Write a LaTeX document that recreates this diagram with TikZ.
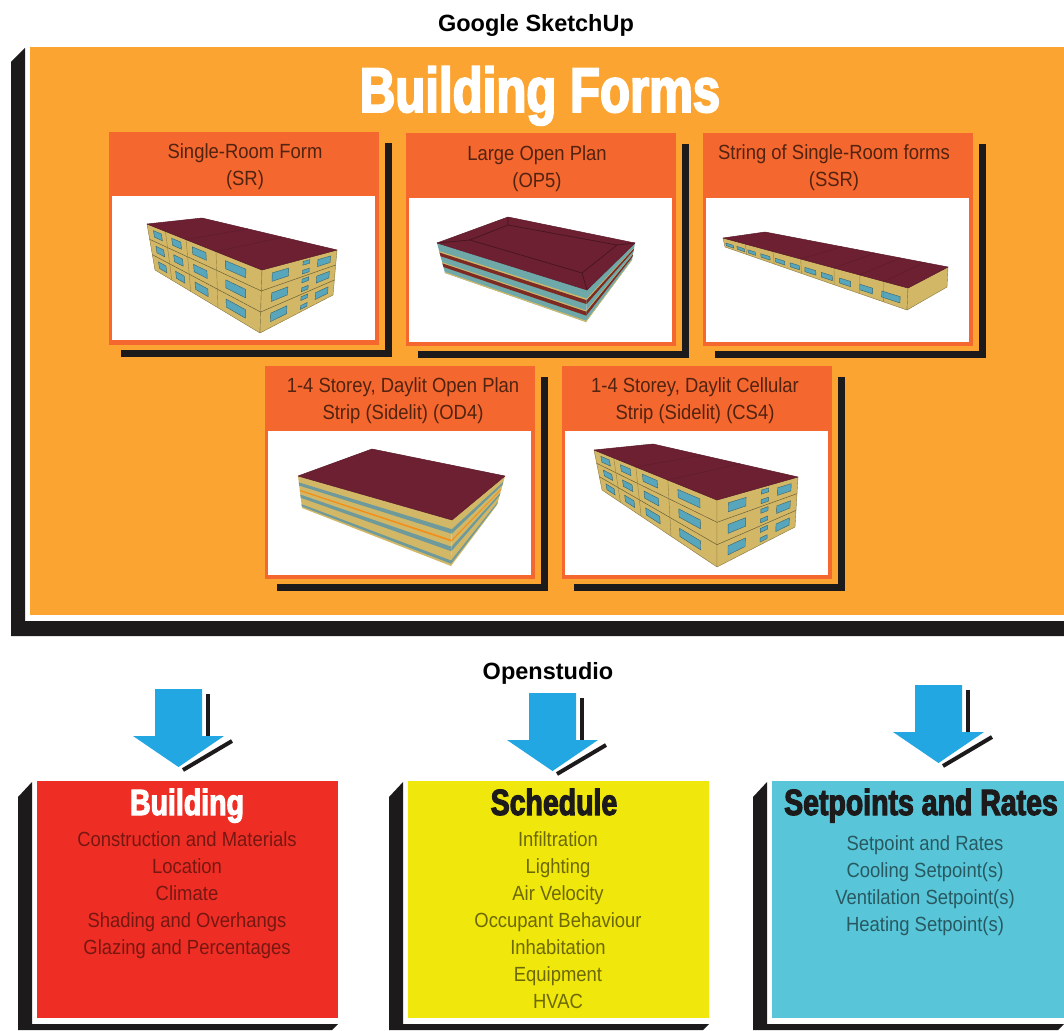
\documentclass[tikz,border=0pt]{standalone}
\usepackage{fontspec}
\usepackage{xcolor}
\usetikzlibrary{positioning}
\usetikzlibrary{calc}
\setmainfont{Liberation Sans}
\newfontfamily\bodyfont[FakeStretch=0.90]{Liberation Sans}
\newfontfamily\headfont[FakeStretch=0.78,FakeBold=3]{Liberation Sans Bold}

\definecolor{boardorange}{HTML}{FBA431}
\definecolor{panelorange}{HTML}{F4672F}
\definecolor{inkblack}{HTML}{1C1A1B}
\definecolor{arrowblue}{HTML}{22A7E2}
\definecolor{zonered}{HTML}{EE2E24}
\definecolor{zoneyellow}{HTML}{F0E80C}
\definecolor{zoneteal}{HTML}{58C6D8}
\definecolor{roofred}{HTML}{6C2031}
\definecolor{wallsand}{HTML}{D2B866}
\definecolor{wallshade}{HTML}{C4AA5C}
\definecolor{glassblue}{HTML}{58A6BC}
\definecolor{bandteal}{HTML}{6FA8A8}
\definecolor{bandred}{HTML}{7E2A22}
\definecolor{bandblue}{HTML}{6E9A9C}

% point on a wall: corners tl tr bl br, then u and v
\newcommand{\wallpt}[6]{($($(#1)!#5!(#2)$)!#6!($(#3)!#5!(#4)$)$)}
% horizontal band on a wall
\newcommand{\wallband}[7]{\fill[#7] \wallpt{#1}{#2}{#3}{#4}{0}{#5} -- \wallpt{#1}{#2}{#3}{#4}{1}{#5} -- \wallpt{#1}{#2}{#3}{#4}{1}{#6} -- \wallpt{#1}{#2}{#3}{#4}{0}{#6} -- cycle;}
% windows: list of u-ranges, number of rows
\newcommand{\wallglass}[6]{%
	\foreach \ua/\ub in {#5} {
		\foreach \rowno in {1,...,#6} {
			\pgfmathsetmacro{\va}{(\rowno-0.72)/#6}
			\pgfmathsetmacro{\vb}{(\rowno-0.30)/#6}
			\filldraw[windowpane] \wallpt{#1}{#2}{#3}{#4}{\ua}{\va} -- \wallpt{#1}{#2}{#3}{#4}{\ub}{\va} -- \wallpt{#1}{#2}{#3}{#4}{\ub}{\vb} -- \wallpt{#1}{#2}{#3}{#4}{\ua}{\vb} -- cycle;
		}
	}
}
% storey lines of a wall
\newcommand{\wallfloors}[4]{%
	\draw[floorline] \wallpt{#1}{#2}{#3}{#4}{0}{0.333} -- \wallpt{#1}{#2}{#3}{#4}{1}{0.333};
	\draw[floorline] \wallpt{#1}{#2}{#3}{#4}{0}{0.667} -- \wallpt{#1}{#2}{#3}{#4}{1}{0.667};
}
% seams across a wall or roof
\newcommand{\wallseams}[6]{%
	\foreach \us in {#5} {
		\draw[#6] \wallpt{#1}{#2}{#3}{#4}{\us}{0} -- \wallpt{#1}{#2}{#3}{#4}{\us}{1};
	}
}

\begin{document}
\begin{tikzpicture}[
		x=1pt, y=-1pt,
		% Panels of the board
		board/.style={fill=boardorange, inner sep=0pt, outer sep=0pt, minimum width=1034pt, minimum height=568pt},
		formpanel/.style={fill=panelorange, inner sep=0pt, outer sep=0pt, minimum width=270pt, minimum height=213pt},
		formphoto/.style={fill=white, inner sep=0pt, outer sep=0pt, minimum width=263pt, minimum height=144pt},
		formtitle/.style={align=center, inner sep=0pt, text=black!55!panelorange!75!black, font=\bodyfont\fontsize{20.5}{27}\selectfont},
		formshadow/.style={draw=inkblack, line width=7pt},
		% Buildings
		roofface/.style={fill=roofred, draw=roofred!85!black, line width=0.5pt, line join=round},
		wallface/.style={fill=wallsand, draw=wallshade!70!black, line width=0.4pt, line join=round},
		windowpane/.style={fill=glassblue, draw=glassblue!60!black, line width=0.4pt},
		floorline/.style={draw=wallshade!55!black, line width=0.5pt},
		bayline/.style={draw=wallshade!75!black, line width=0.4pt},
		roofline/.style={draw=roofred!65!black, line width=0.7pt},
		roofseam/.style={draw=roofred!88!black, line width=0.5pt},
		% Lower boxes
		zonebox/.style={inner sep=0pt, outer sep=0pt, minimum height=237pt},
		zonehead/.style={inner sep=0pt, anchor=base, font=\headfont\fontsize{36.5}{36.5}\selectfont},
		zonetext/.style={align=center, inner sep=0pt, font=\bodyfont\fontsize{20.5}{27}\selectfont},
		toolname/.style={inner sep=0pt, anchor=base, font=\bfseries\fontsize{23.5}{23.5}\selectfont},
		inkfill/.style={fill=inkblack},
		node distance=27pt,
		]
		\useasboundingbox (0,0) rectangle (1064,1030);

		% Board with its black edge
		\fill[inkfill] (11,62) -- (25,48) -- (25,621) -- (1064,621) -- (1064,636) -- (11,636) -- cycle;
		\node[board] (board) at (547,331) {};
		\node[toolname] (sketchup) at (536,32) {Google SketchUp};
		\node[inner sep=0pt, anchor=base, text=white, font=\headfont\fontsize{63}{63}\selectfont] (boardtitle) at (540,112) {Building Forms};

		% Upper row of panels
		\node[formpanel] (srpanel) at (244,238.5) {};
		\node[formpanel, right=of srpanel, yshift=-0.5pt] (oppanel) {};
		\node[formpanel, right=of oppanel] (ssrpanel) {};
		% Lower row of panels
		\node[formpanel] (odpanel) at (400,472.5) {};
		\node[formpanel, right=of odpanel] (cspanel) {};

		\foreach \pname in {srpanel,oppanel,ssrpanel,odpanel,cspanel} {
			\draw[formshadow] ($(\pname.north east)+(9,11)$) |- ($(\pname.south west)+(12,8.5)$);
		}

		\node[formphoto, above=5pt of srpanel.south, xshift=-0.5pt] (srphoto) {};
		\node[formphoto, above=4pt of oppanel.south, xshift=-0.5pt] (opphoto) {};
		\node[formphoto, above=4pt of ssrpanel.south, xshift=-0.5pt] (ssrphoto) {};
		\node[formphoto, above=4pt of odpanel.south, xshift=-0.5pt] (odphoto) {};
		\node[formphoto, above=4pt of cspanel.south, xshift=-0.5pt] (csphoto) {};

		\node[formtitle] (srtitle) at (245,166.5) {Single-Room Form\\(SR)};
		\node[formtitle] (optitle) at (537,169) {Large Open Plan\\(OP5)};
		\node[formtitle] (ssrtitle) at (834,168) {String of Single-Room forms\\(SSR)};
		\node[formtitle] (odtitle) at (403,401) {1-4 Storey, Daylit Open Plan\\Strip (Sidelit) (OD4)};
		\node[formtitle] (cstitle) at (695,401) {1-4 Storey, Daylit Cellular\\Strip (Sidelit) (CS4)};

		% SR building
		\coordinate (srl) at (147,224);
		\coordinate (srt) at (202,218);
		\coordinate (srr) at (337,250);
		\coordinate (srf) at (262,270);
		\coordinate (srb) at (260,333);
		\coordinate (srlb) at (155,270);
		\coordinate (srrb) at (333,295);
		\filldraw[wallface] (srl) -- (srf) -- (srb) -- (srlb) -- cycle;
		\filldraw[wallface] (srf) -- (srr) -- (srrb) -- (srb) -- cycle;
		\wallfloors{srl}{srf}{srlb}{srb}
		\wallfloors{srf}{srr}{srb}{srrb}
		\wallseams{srl}{srf}{srlb}{srb}{0.16,0.34,0.60}{bayline}
		\wallglass{srl}{srf}{srlb}{srb}{0.05/0.12,0.21/0.29,0.39/0.51,0.68/0.86}{3}
		\wallglass{srf}{srr}{srb}{srrb}{0.14/0.36,0.75/0.92}{3}
		\wallglass{srf}{srr}{srb}{srrb}{0.55/0.64}{6}
		\filldraw[roofface] (srl) -- (srt) -- (srr) -- (srf) -- cycle;
		\wallseams{srl}{srf}{srt}{srr}{0.34,0.60}{roofseam}

		% OP5 building
		\coordinate (opl) at (437,243);
		\coordinate (opt) at (508,217);
		\coordinate (opr) at (635,243);
		\coordinate (opf) at (587,290);
		\coordinate (opb) at (586,322);
		\coordinate (oplb) at (445,273);
		\coordinate (oprb) at (632,260);
		\foreach \wa/\wb/\wc/\wd in {opl/opf/oplb/opb,opf/opr/opb/oprb} {
			\fill[bandteal] (\wa) -- (\wb) -- (\wd) -- (\wc) -- cycle;
			\wallband{\wa}{\wb}{\wc}{\wd}{0.27}{0.32}{wallsand}
			\wallband{\wa}{\wb}{\wc}{\wd}{0.32}{0.44}{bandred}
			\wallband{\wa}{\wb}{\wc}{\wd}{0.64}{0.68}{wallsand}
			\wallband{\wa}{\wb}{\wc}{\wd}{0.68}{0.80}{bandred}
			\wallband{\wa}{\wb}{\wc}{\wd}{0.96}{1}{wallsand}
		}
		\filldraw[roofface] (opl) -- (opt) -- (opr) -- (opf) -- cycle;
		\draw[roofline] (470,240) -- (508,225) -- (617,245) -- (582,273) -- cycle;
		\draw[roofline] (opl) -- (470,240) (opt) -- (508,225) (opr) -- (617,245) (opf) -- (582,273);

		% SSR building
		\coordinate (ssrl) at (723,238);
		\coordinate (ssrt) at (765,232);
		\coordinate (ssrr) at (948,267);
		\coordinate (ssrf) at (908,288);
		\coordinate (ssrb) at (907,310);
		\coordinate (ssrlb) at (725,247);
		\coordinate (ssrrb) at (947,287);
		\coordinate (ssrlm) at ($(ssrl)!0.3!(ssrlb)$);
		\coordinate (ssrfm) at ($(ssrf)!0.3!(ssrb)$);
		\filldraw[wallface] (ssrl) -- (ssrf) -- (ssrb) -- (ssrlb) -- cycle;
		\filldraw[wallface] (ssrf) -- (ssrr) -- (ssrrb) -- (ssrb) -- cycle;
		\wallglass{ssrlm}{ssrfm}{ssrlb}{ssrb}{0.01/0.05,0.07/0.11,0.13/0.17,0.20/0.25,0.28/0.33,0.36/0.41,0.44/0.50,0.53/0.59,0.63/0.69,0.74/0.81,0.86/0.96}{1}
		\wallseams{ssrl}{ssrf}{ssrlb}{ssrb}{0.12,0.27,0.42,0.60,0.74,0.87}{bayline}
		\filldraw[roofface] (ssrl) -- (ssrt) -- (ssrr) -- (ssrf) -- cycle;
		\wallseams{ssrl}{ssrf}{ssrt}{ssrr}{0.42,0.60,0.74,0.87}{roofseam}

		% OD4 building
		\coordinate (odl) at (298,476);
		\coordinate (odt) at (372,449);
		\coordinate (odr) at (505,476);
		\coordinate (odf) at (452,520);
		\coordinate (odb) at (451,566);
		\coordinate (odlb) at (302,508);
		\coordinate (odrb) at (497,505);
		\foreach \wa/\wb/\wc/\wd in {odl/odf/odlb/odb,odf/odr/odb/odrb} {
			\fill[wallsand] (\wa) -- (\wb) -- (\wd) -- (\wc) -- cycle;
			\wallband{\wa}{\wb}{\wc}{\wd}{0.20}{0.30}{bandblue}
			\wallband{\wa}{\wb}{\wc}{\wd}{0.43}{0.47}{orange!75!wallsand}
			\wallband{\wa}{\wb}{\wc}{\wd}{0.58}{0.68}{bandblue}
			\wallband{\wa}{\wb}{\wc}{\wd}{0.88}{0.95}{bandblue}
		}
		\filldraw[roofface] (odl) -- (odt) -- (odr) -- (odf) -- cycle;

		% CS4 building
		\coordinate (csl) at (594,450);
		\coordinate (cst) at (653,444);
		\coordinate (csr) at (798,477);
		\coordinate (csf) at (717,500);
		\coordinate (csb) at (717,567);
		\coordinate (cslb) at (602,490);
		\coordinate (csrb) at (795,527);
		\filldraw[wallface] (csl) -- (csf) -- (csb) -- (cslb) -- cycle;
		\filldraw[wallface] (csf) -- (csr) -- (csrb) -- (csb) -- cycle;
		\wallfloors{csl}{csf}{cslb}{csb}
		\wallfloors{csf}{csr}{csb}{csrb}
		\wallseams{csl}{csf}{cslb}{csb}{0.16,0.34,0.60}{bayline}
		\wallglass{csl}{csf}{cslb}{csb}{0.05/0.12,0.21/0.29,0.39/0.51,0.68/0.86}{3}
		\wallglass{csf}{csr}{csb}{csrb}{0.14/0.36,0.75/0.92}{3}
		\wallglass{csf}{csr}{csb}{csrb}{0.55/0.64}{6}
		\filldraw[roofface] (csl) -- (cst) -- (csr) -- (csf) -- cycle;
		\wallseams{csl}{csf}{cst}{csr}{0.34,0.60}{roofseam}

		\node[toolname] (openstudio) at (548,679) {Openstudio};

		% Block arrows
		\foreach \ax/\ay in {155/689,529/693,915/685} {
			\begin{scope}[shift={(\ax,\ay)}]
				\fill[inkfill] (51,5) rectangle (55,47);
				\draw[inkblack, line width=4pt] (28,81) -- (77,52);
				\fill[arrowblue] (0,0) -- (47,0) -- (47,47) -- (69,47) -- (23.5,78) -- (-22,47) -- (0,47) -- cycle;
			\end{scope}
		}

		% Black edges of the lower boxes
		\foreach \ex/\er in {18/338,389/709,753/1064} {
			\fill[inkfill] (\ex,797) -- (\ex+14,782) -- (\ex+14,1024) -- (\er,1024) -- (\er-6,1030) -- (\ex,1030) -- cycle;
		}

		% Lower boxes
		\node[zonebox, fill=zonered, minimum width=301pt] (buildingbox) at (187.5,899.5) {};
		\node[zonebox, fill=zoneyellow, minimum width=301pt] (schedulebox) at (558.5,899.5) {};
		\node[zonebox, fill=zoneteal, minimum width=292pt] (setpointbox) at (918,899.5) {};

		\node[zonehead, text=white] (buildinghead) at (187,815) {Building};
		\node[zonehead, text=inkblack] (schedulehead) at (554,815) {Schedule};
		\node[zonehead, text=inkblack] (setpointhead) at (921,815) {Setpoints and Rates};

		\node[zonetext, text=zonered!50!black, anchor=north] (buildinglist) at (187,831) {Construction and Materials\\Location\\Climate\\Shading and Overhangs\\Glazing and Percentages};
		\node[zonetext, text=zoneyellow!45!black, anchor=north] (schedulelist) at (558,831) {Infiltration\\Lighting\\Air Velocity\\Occupant Behaviour\\Inhabitation\\Equipment\\HVAC};
		\node[zonetext, text=zoneteal!45!black, anchor=north] (setpointlist) at (925,835) {Setpoint and Rates\\Cooling Setpoint(s)\\Ventilation Setpoint(s)\\Heating Setpoint(s)};

	\end{tikzpicture}
\end{document}
